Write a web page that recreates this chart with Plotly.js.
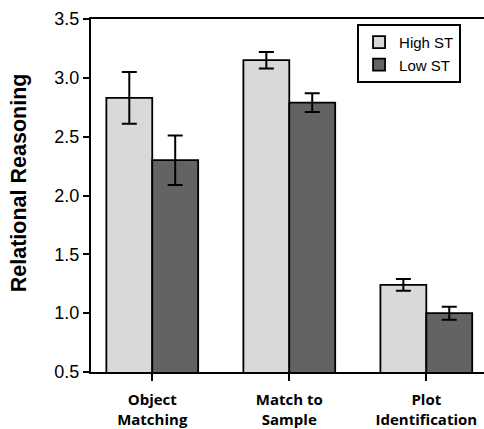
<!DOCTYPE html>
<html><head><meta charset="utf-8">
<script src="https://cdn.plot.ly/plotly-3.0.1.min.js"></script>
<style>html,body{margin:0;padding:0;background:#fff}#chart{width:484px;height:429px}</style>
</head><body><div id="chart"></div>
<script>
const categories = ["Object<br>Matching", "Match to<br>Sample", "Plot<br>Identification"];
const highST = [2.83, 3.15, 1.24];
const highErr = [0.22, 0.07, 0.05];
const lowST = [2.30, 2.79, 1.00];
const lowErr = [0.21, 0.08, 0.055];
const yTitle = "Relational Reasoning";

const traces = [
  {type:'bar', name:'High ST', x:categories, y:highST,
   marker:{color:'#d9d9d9', line:{color:'#000', width:1.8}},
   error_y:{type:'data', array:highErr, visible:true, color:'#000', thickness:2, width:7.5}},
  {type:'bar', name:'Low ST', x:categories, y:lowST,
   marker:{color:'#636363', line:{color:'#000', width:1.8}},
   error_y:{type:'data', array:lowErr, visible:true, color:'#000', thickness:2, width:7.5}}
];

const layout = {
  width:484, height:429,
  margin:{l:91, r:0, t:19, b:57, pad:0},
  paper_bgcolor:'#fff', plot_bgcolor:'#fff',
  barmode:'group', bargap:0.33, bargroupgap:0,
  showlegend:true,
  legend:{x:0.677, y:0.986, xanchor:'left', yanchor:'top',
    bordercolor:'#000', borderwidth:2, bgcolor:'#fff',
    font:{family:'Liberation Sans, Arial, sans-serif', size:15, color:'#000'},
    traceorder:'normal'},
  xaxis:{type:'category', range:[-0.447, 2.421], showline:true, mirror:true,
    linecolor:'#000', linewidth:2, ticks:'outside', ticklen:7, tickwidth:2, tickcolor:'#000',
    showgrid:false, zeroline:false, ticklabelstandoff:6,
    tickfont:{family:'Open Sans, sans-serif', size:15, color:'#000', weight:'bold'}},
  yaxis:{range:[0.5,3.5], dtick:0.5, tickformat:'.1f', showline:true, mirror:false,
    linecolor:'#000', linewidth:2, ticks:'outside', ticklen:6, tickwidth:2, tickcolor:'#000',
    showgrid:false, zeroline:false,
    tickfont:{family:'Liberation Sans, Arial, sans-serif', size:18, color:'#000'}},
  annotations:[{text:'<b>'+yTitle+'</b>', xref:'paper', yref:'paper', x:-0.183, y:0.535,
    xanchor:'center', yanchor:'middle', textangle:-90, showarrow:false,
    font:{family:'Liberation Sans, Arial, sans-serif', size:21.5, color:'#000'}}]
};
Plotly.newPlot('chart', traces, layout, {displayModeBar:false, staticPlot:true});
</script></body></html>
